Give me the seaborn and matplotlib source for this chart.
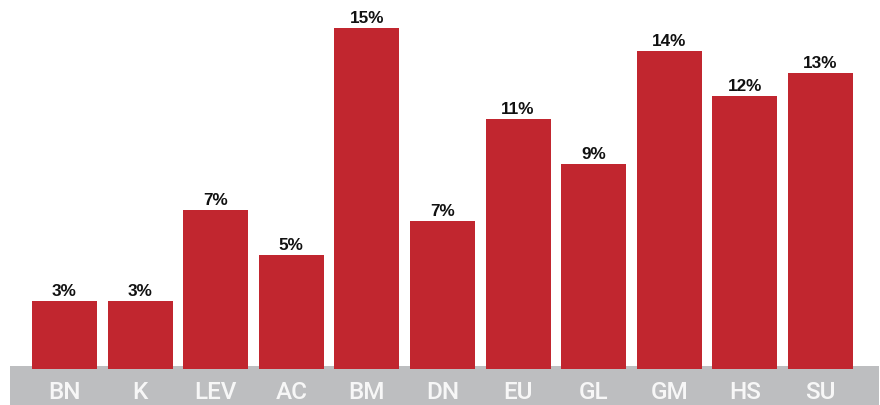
import math

import matplotlib
matplotlib.use("Agg")
import matplotlib.pyplot as plt
from matplotlib.patches import Rectangle
import pandas as pd
import seaborn as sns

# Share of respondents by group (%)
groups = ["BN", "K", "LEV", "AC", "BM", "DN", "EU", "GL", "GM", "HS", "SU"]
shares = [3, 3, 7, 5, 15, 6.5, 11, 9, 14, 12, 13]

BAR_RED = "#C1262F"
BAND_GREY = "#BDBEC0"

sns.set_theme(style="white")
plt.rcParams["font.family"] = ["Liberation Sans", "DejaVu Sans"]

df = pd.DataFrame({"group": groups, "share": shares})

fig = plt.figure(figsize=(8.8, 4.05), dpi=100)
ax = fig.add_axes([0, 0, 1, 1])
ax.patch.set_alpha(0)

# grey band carrying the category names (axes span the whole figure)
ax.add_patch(Rectangle((10 / 880, 0), 869 / 880, 39 / 405,
                       transform=ax.transAxes, facecolor=BAND_GREY,
                       edgecolor="none", zorder=1, clip_on=False))

sns.barplot(data=df, x="group", y="share", color=BAR_RED, saturation=1,
            width=0.86, linewidth=0, ax=ax, zorder=3)

# pixel layout: first bar centred at 64.5 px, 75.6 px pitch, baseline 36 px up
pitch = 75.6
ax.set_xlim(-64.5 / pitch, (880 - 64.5) / pitch)
unit = 22.75
ax.set_ylim(-36 / unit, (405 - 36) / unit)

for i, v in enumerate(shares):
    ax.annotate(f"{math.floor(v + 0.5)}%", (i, v), xytext=(0, 3.6),
                textcoords="offset points", ha="center", va="baseline",
                fontsize=12.3, fontweight="bold", color="#111111", zorder=5)
    ax.text(i, -1.03, groups[i], ha="center", va="center",
            fontsize=17.5, fontweight="medium", family=["Roboto", "DejaVu Sans"],
            color="#F7F7F7", zorder=5)

ax.set_axis_off()
fig.savefig("out.png", dpi=100)
